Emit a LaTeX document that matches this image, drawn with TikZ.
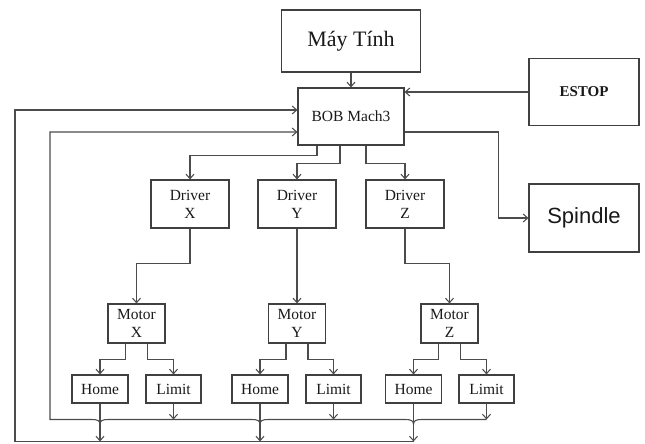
\documentclass[tikz,border=0pt]{standalone}
\usepackage{fontspec}
\setmainfont{Liberation Serif}
\newfontfamily\sansf{Liberation Sans}
\usetikzlibrary{arrows.meta,calc}
\begin{document}
\begin{tikzpicture}[x=1pt,y=-1pt,
 box/.style={draw=black!75,line width=1.1pt,inner sep=0pt,align=center,font=\fontsize{15.5}{18}\selectfont,text=black!90},
 con/.style={draw=black!70,line width=1.05pt},
 arr/.style={con,-{Straight Barb[length=4.5pt,width=8pt]}}]
\useasboundingbox (0,0) rectangle (645,444);
% boxes
\node[box,minimum width=139pt,minimum height=62pt,font=\fontsize{22}{26}\selectfont] (pc) at (351,41) {Máy Tính};
\node[box,minimum width=106pt,minimum height=57pt] (bob) at (351,116.5) {BOB Mach3};
\node[box,minimum width=110pt,minimum height=67pt,font=\fontsize{15}{18}\selectfont\bfseries] (estop) at (584,92) {ESTOP};
\node[box,minimum width=110pt,minimum height=68pt,font=\sansf\fontsize{22}{26}\selectfont] (spindle) at (584,218) {Spindle};
\node[box,minimum width=78pt,minimum height=48pt] (drvx) at (190,204) {Driver\\X};
\node[box,minimum width=78pt,minimum height=48pt] (drvy) at (297,204) {Driver\\Y};
\node[box,minimum width=78pt,minimum height=48pt] (drvz) at (405,204) {Driver\\Z};
\node[box,minimum width=57pt,minimum height=39pt] (motx) at (136.5,323.5) {Motor\\X};
\node[box,minimum width=57pt,minimum height=39pt] (moty) at (297,323.5) {Motor\\Y};
\node[box,minimum width=57pt,minimum height=39pt] (motz) at (449.5,323.5) {Motor\\Z};
\node[box,minimum width=56pt,minimum height=28pt] (homex) at (100,389) {Home};
\node[box,minimum width=55pt,minimum height=28pt] (limx) at (173.5,389) {Limit};
\node[box,minimum width=56pt,minimum height=28pt] (homey) at (260,389) {Home};
\node[box,minimum width=55pt,minimum height=28pt] (limy) at (333.5,389) {Limit};
\node[box,minimum width=56pt,minimum height=28pt] (homez) at (413.5,389) {Home};
\node[box,minimum width=55pt,minimum height=28pt] (limz) at (486.5,389) {Limit};
\coordinate (busA) at (0,419.5);
\coordinate (busB) at (0,441.5);
% top connectors
\draw[arr] (pc.south) -- (bob.north);
\draw[arr] (estop.west) -- (estop.west -| bob.east);
\draw[arr] ($(bob.east)+(0,15.5)$) -- ++(94,0) |- (spindle.west);
\draw[arr] ($(bob.south)+(-34,0)$) -- ++(0,10) -| (drvx.north);
\draw[arr] ($(bob.south)+(-11,0)$) -- ++(0,18) -| (drvy.north);
\draw[arr] ($(bob.south)+(15,0)$) -- ++(0,18) -| (drvz.north);
% drivers to motors
\draw[arr] (drvx.south) -- ++(0,35) -| (motx.north);
\draw[arr] (drvy.south) -- (moty.north);
\draw[arr] (drvz.south) -- ++(0,35) -| (motz.north);
% motors to sensors
\draw[arr] ($(motx.south)+(-11,0)$) -- ++(0,16) -| (homex.north);
\draw[arr] ($(motx.south)+(11,0)$) -- ++(0,16) -| (limx.north);
\draw[arr] ($(moty.south)+(-11,0)$) -- ++(0,16) -| (homey.north);
\draw[arr] ($(moty.south)+(11,0)$) -- ++(0,16) -| (limy.north);
\draw[arr] ($(motz.south)+(-11,0)$) -- ++(0,16) -| (homez.north);
\draw[arr] ($(motz.south)+(11,0)$) -- ++(0,16) -| (limz.north);
% sensors to buses
\foreach \n in {limx,limy,limz} \draw[arr] (\n.south) -- (\n.south |- busA);
\foreach \n in {homex,homey,homez} \draw[arr] (\n.south) -- (\n.south |- busB);
\coordinate (jz) at (homez.south |- busA);
\coordinate (jy) at (homey.south |- busA);
\coordinate (jx) at (homex.south |- busA);
% upper bus (limits) back to BOB
\draw[arr] (limz.south |- busA)
  -- ($(jz)+(8,0)$) .. controls ($(jz)+(2,0)$) and ($(jz)+(0,1.5)$) .. ($(jz)+(0,5)$)
     .. controls ($(jz)+(0,1.5)$) and ($(jz)+(-2,0)$) .. ($(jz)+(-8,0)$)
  -- ($(jy)+(8,0)$) .. controls ($(jy)+(2,0)$) and ($(jy)+(0,1.5)$) .. ($(jy)+(0,5)$)
     .. controls ($(jy)+(0,1.5)$) and ($(jy)+(-2,0)$) .. ($(jy)+(-8,0)$)
  -- ($(jx)+(8,0)$) .. controls ($(jx)+(2,0)$) and ($(jx)+(0,1.5)$) .. ($(jx)+(0,5)$)
     .. controls ($(jx)+(0,1.5)$) and ($(jx)+(-2,0)$) .. ($(jx)+(-8,0)$)
  -- ($(busA)+(50,0)$) |- ($(bob.west)+(0,15.5)$);
% lower bus (homes) back to BOB
\draw[arr] (homez.south |- busB) -- ($(busB)+(15,0)$) |- ($(bob.west)+(0,-6.5)$);
\end{tikzpicture}
\end{document}
